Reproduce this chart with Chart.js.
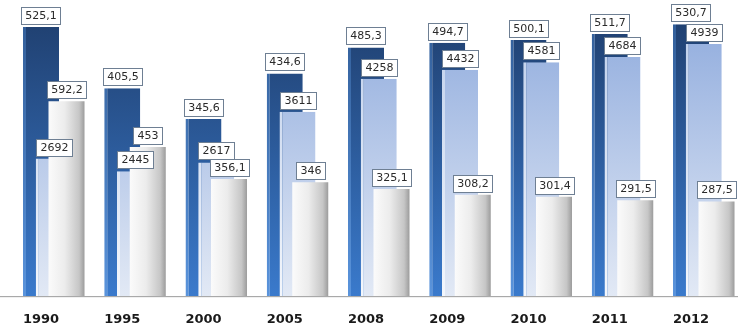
<!DOCTYPE html>
<html>
<head>
<meta charset="utf-8">
<script src="https://cdn.jsdelivr.net/npm/chart.js@4/dist/chart.umd.min.js"></script>
<style>
  html, body { margin: 0; padding: 0; background: #fff; }
  #wrap { width: 738px; height: 326px; }
</style>
</head>
<body>
<div id="wrap"><canvas id="chart"></canvas></div>
<script>
const years = ['1990', '1995', '2000', '2005', '2008', '2009', '2010', '2011', '2012'];
const darkValues = [525.1, 405.5, 345.6, 434.6, 485.3, 494.7, 500.1, 511.7, 530.7];
const lightValues = [2692, 2445, 2617, 3611, 4258, 4432, 4581, 4684, 4939];
const greyValues = [592.2, 453, 356.1, 346, 325.1, 308.2, 301.4, 291.5, 287.5];

// bars overlap: three grouped slots, each bar much wider than its slot
const CAT_PCT = 0.4708;
const BAR_PCT = 2.824;

function vertical(c, top, bottom) {
  const area = c.chart.chartArea;
  if (!area) return bottom;
  const g = c.chart.ctx.createLinearGradient(0, area.top, 0, area.bottom);
  g.addColorStop(0, top);
  g.addColorStop(1, bottom);
  return g;
}

function greyFill(c) {
  const xs = c.chart.scales.x;
  if (!xs || !xs.width || c.dataIndex === undefined) return '#dedede';
  const slot = xs.width / (years.length - 1) * CAT_PCT / 3;
  const center = xs.getPixelForValue(c.dataIndex) + slot;
  const half = slot * BAR_PCT / 2;
  const g = c.chart.ctx.createLinearGradient(center - half, 0, center + half, 0);
  g.addColorStop(0, '#fbfbfb');
  g.addColorStop(0.45, '#ececec');
  g.addColorStop(0.85, '#c6c6c6');
  g.addColorStop(1, '#9c9c9c');
  return g;
}

function fmt(v) {
  return String(v).replace('.', ',');
}

// draw datasets first-to-last so the later series sits on top, then the value boxes
const overlay = {
  id: 'overlay',
  beforeDatasetsDraw(chart) {
    const ctx = chart.ctx;
    const y0 = Math.round(chart.scales.yDark.getPixelForValue(0));
    ctx.save();
    ctx.strokeStyle = '#a9a9a9';
    ctx.lineWidth = 1;
    ctx.beginPath();
    ctx.moveTo(0, y0 + 0.5);
    ctx.lineTo(chart.width, y0 + 0.5);
    ctx.stroke();
    ctx.strokeStyle = 'rgba(0,0,0,0.06)';
    ctx.beginPath();
    ctx.moveTo(0, y0 + 1.5);
    ctx.lineTo(chart.width, y0 + 1.5);
    ctx.stroke();
    ctx.restore();
  },
  beforeDatasetDraw() {
    return false;
  },
  afterDatasetsDraw(chart) {
    const ctx = chart.ctx;
    chart.data.datasets.forEach((d, i) => chart.getDatasetMeta(i).controller.draw());
    ctx.save();
    ctx.font = '11px "DejaVu Sans"';
    ctx.textAlign = 'center';
    ctx.textBaseline = 'middle';
    chart.data.datasets.forEach((d, i) => {
      chart.getDatasetMeta(i).data.forEach((bar, j) => {
        const text = fmt(d.data[j]);
        const w = Math.round(ctx.measureText(text).width) + 8;
        const h = 17;
        const left = Math.round(bar.x - w / 2) + 0.5;
        const top = Math.round(bar.y - 3 - h) + 0.5;
        ctx.fillStyle = '#fff';
        ctx.fillRect(left, top, w, h);
        ctx.strokeStyle = '#6e7f93';
        ctx.lineWidth = 1;
        ctx.strokeRect(left, top, w, h);
        ctx.fillStyle = '#2a2a2a';
        ctx.fillText(text, left + w / 2, top + h / 2 + 0.5);
      });
    });
    ctx.restore();
  }
};

new Chart(document.getElementById('chart'), {
  type: 'bar',
  data: {
    labels: years,
    datasets: [
      {
        data: darkValues,
        yAxisID: 'yDark',
        backgroundColor: c => vertical(c, '#1e3c6a', '#3a7acc'),
        borderColor: c => vertical(c, '#2f5a94', '#5a94dc'),
        borderWidth: {left: 3, top: 0, right: 0, bottom: 0},
        clip: false
      },
      {
        data: lightValues,
        yAxisID: 'yLight',
        backgroundColor: c => vertical(c, '#8ba8dc', '#e2e9f5'),
        borderColor: c => vertical(c, '#b9cbea', '#f4f7fc'),
        borderWidth: {left: 3, top: 0, right: 0, bottom: 0},
        clip: false
      },
      {
        data: greyValues,
        yAxisID: 'yGrey',
        backgroundColor: greyFill,
        borderWidth: 0,
        clip: false
      }
    ]
  },
  options: {
    responsive: true,
    maintainAspectRatio: false,
    animation: false,
    categoryPercentage: CAT_PCT,
    barPercentage: BAR_PCT,
    layout: {padding: {left: 53.75, right: 34.25, top: 0, bottom: 0}},
    plugins: {legend: {display: false}, tooltip: {enabled: false}},
    scales: {
      x: {
        offset: false,
        grid: {display: false, drawTicks: false},
        border: {display: false},
        afterFit: s => { s.height = 30; },
        ticks: {
          padding: 16,
          labelOffset: -12.75,
          color: '#1a1a1a',
          font: {family: 'DejaVu Sans', size: 13, weight: 'bold'}
        }
      },
      yDark: {display: false, min: 0, max: 578},
      yLight: {display: false, min: 0, max: 5800},
      yGrey: {display: false, min: 0, max: 900}
    }
  },
  plugins: [overlay]
});
</script>
</body>
</html>
